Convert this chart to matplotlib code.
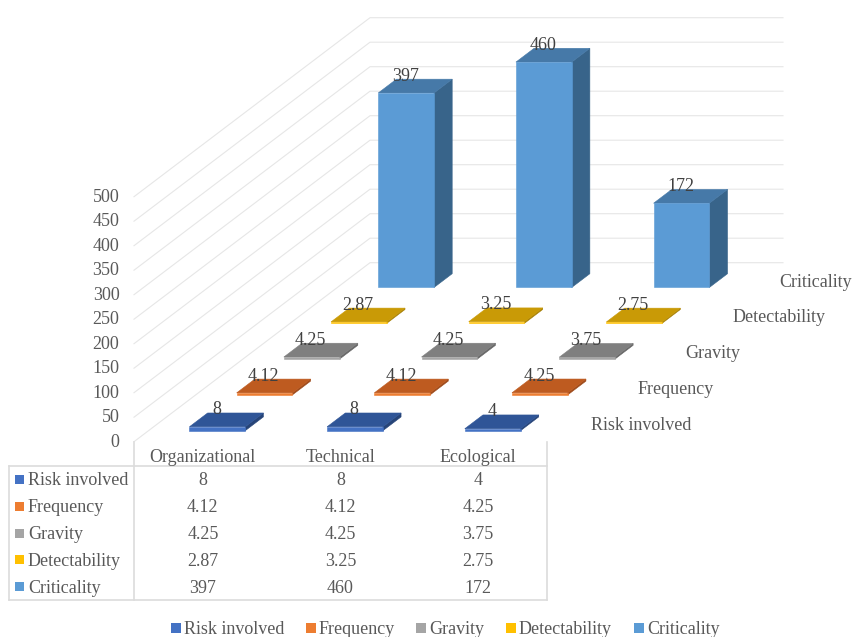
import matplotlib
matplotlib.use('Agg')
import matplotlib.pyplot as plt
from matplotlib.patches import Polygon, Rectangle

plt.rcParams['font.family'] = ['Liberation Serif', 'DejaVu Serif']

categories = ['Organizational', 'Technical', 'Ecological']
series_names = ['Risk involved', 'Frequency', 'Gravity', 'Detectability', 'Criticality']
risk_involved = [8, 8, 4]
frequency = [4.12, 4.12, 4.25]
gravity = [4.25, 4.25, 3.75]
detectability = [2.87, 3.25, 2.75]
criticality = [397, 460, 172]
series_values = [risk_involved, frequency, gravity, detectability, criticality]
y_ticks = [0, 50, 100, 150, 200, 250, 300, 350, 400, 450, 500]

front_colors = ['#4472C4', '#ED7D31', '#A5A5A5', '#FFC000', '#5B9BD5']
top_colors = ['#2F5597', '#BE5B20', '#7F7F7F', '#C99A06', '#4679A8']
side_colors = ['#264478', '#9E4A1A', '#666666', '#A67F04', '#38648A']

GRID = '#E6E6E6'
TABLE_LINE = '#DCDCDC'
TICK = '#595959'
LABEL = '#404040'
FS = 13
DY = 1.5  # text sits a bit lower than va='center' gives

# oblique projection of the 3d box, fractions of floor width/depth + value
X0, Y0 = 134, 441.7
FLOOR_W, DEPTH_X, DEPTH_Y = 413, 236, 179
PX_PER_UNIT = 0.49
BAR_W, BAR_D = 0.405, 0.385


def proj(u, s, v):
    return X0 + u * FLOOR_W + s * DEPTH_X, Y0 - s * DEPTH_Y - v * PX_PER_UNIT


fig = plt.figure(figsize=(8.54, 6.37), dpi=100)
ax = fig.add_axes([0, 0, 1, 1])
ax.set_xlim(0, 854)
ax.set_ylim(637, 0)
ax.axis('off')

# walls
for t in y_ticks:
    ax.plot(*zip(proj(0, 0, t), proj(0, 1, t), proj(1, 1, t)), color=GRID, lw=0.8, zorder=1)
    x, y = proj(0, 0, t)
    ax.text(x - 14.5, y + DY - 1, str(t), ha='right', va='center', fontsize=FS, color=TICK)

n_cat = len(categories)
n_ser = len(series_names)


def bar(i, j, val):
    u0 = (i + 0.5 - BAR_W / 2) / n_cat
    u1 = (i + 0.5 + BAR_W / 2) / n_cat
    s0 = (j + 0.5 - BAR_D / 2) / n_ser
    s1 = (j + 0.5 + BAR_D / 2) / n_ser
    side = [proj(u1, s0, 0), proj(u1, s1, 0), proj(u1, s1, val), proj(u1, s0, val)]
    top = [proj(u0, s0, val), proj(u1, s0, val), proj(u1, s1, val), proj(u0, s1, val)]
    front = [proj(u0, s0, 0), proj(u1, s0, 0), proj(u1, s0, val), proj(u0, s0, val)]
    z = 10 + (n_ser - j) * 3
    ax.add_patch(Polygon(side, fc=side_colors[j], ec=side_colors[j], lw=0.4, zorder=z))
    ax.add_patch(Polygon(top, fc=top_colors[j], ec=top_colors[j], lw=0.4, zorder=z))
    ax.add_patch(Polygon(front, fc=front_colors[j], ec=front_colors[j], lw=0.4, zorder=z + 1))
    lx = (front[0][0] + front[1][0]) / 2 - 1
    ly = top[2][1] - 4 + DY - 0.5
    ax.text(lx, ly, f'{val:g}', ha='center', va='center', fontsize=FS, color=LABEL, zorder=60)


for j in range(n_ser - 1, -1, -1):
    for i in range(n_cat):
        bar(i, j, series_values[j][i])

# depth axis labels
for j, name in enumerate(series_names):
    x, y = proj(1, (j + 0.5) / n_ser, 0)
    ax.text(x + 20, y + DY, name, ha='left', va='center', fontsize=FS, color=TICK)

# data table
TABLE_L, TABLE_T, TABLE_B = 9, 466, 600
x_mid = X0
x_right = X0 + FLOOR_W
ax.plot([TABLE_L, x_right], [TABLE_T, TABLE_T], color=TABLE_LINE, lw=1.2)
ax.plot([TABLE_L, x_right], [TABLE_B, TABLE_B], color=TABLE_LINE, lw=1.2)
ax.plot([TABLE_L, TABLE_L], [TABLE_T, TABLE_B], color=TABLE_LINE, lw=1.2)
ax.plot([x_mid, x_mid], [Y0, TABLE_B], color=TABLE_LINE, lw=1.2)
ax.plot([x_right, x_right], [Y0, TABLE_B], color=TABLE_LINE, lw=1.2)

row_h = (TABLE_B - TABLE_T) / n_ser
for i, c in enumerate(categories):
    cx = X0 + (i + 0.5) * FLOOR_W / n_cat
    ax.text(cx, 457 + DY - 0.5, c, ha='center', va='center', fontsize=FS, color=TICK)
    for j in range(n_ser):
        ax.text(cx, TABLE_T + (j + 0.5) * row_h + DY, f'{series_values[j][i]:g}',
                ha='center', va='center', fontsize=FS, color=TICK)
for j, name in enumerate(series_names):
    cy = TABLE_T + (j + 0.5) * row_h
    ax.add_patch(Rectangle((15, cy - 4.5), 9, 9, fc=front_colors[j], ec='none'))
    ax.text(28, cy + DY, name, ha='left', va='center', fontsize=FS, color=TICK)

# legend
legend_box = [171, 306, 416, 506, 634]
for j, name in enumerate(series_names):
    ax.add_patch(Rectangle((legend_box[j], 623), 10, 10, fc=front_colors[j], ec='none'))
    ax.text(legend_box[j] + 13, 628 + DY, name, ha='left', va='center', fontsize=FS, color=TICK)

fig.savefig('out.png', dpi=100)
